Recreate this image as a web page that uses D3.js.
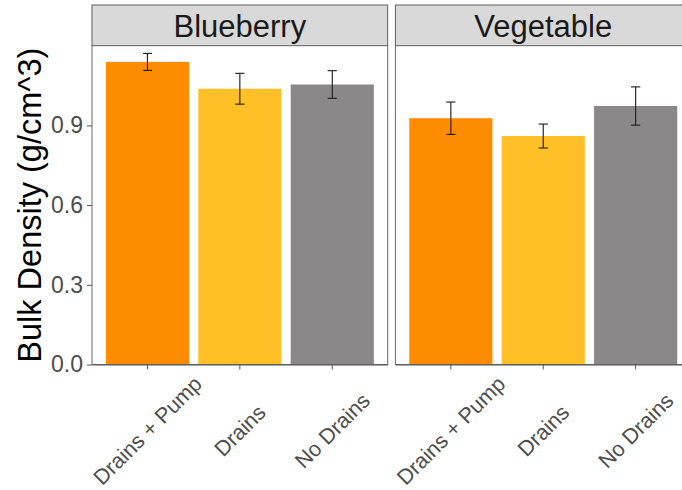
<!DOCTYPE html>
<html>
<head>
<meta charset="utf-8">
<script src="https://cdn.jsdelivr.net/npm/d3@7"></script>
<style>
  html, body { margin: 0; padding: 0; background: #fff; }
  svg { display: block; font-family: "Liberation Sans", Arial, sans-serif; }
</style>
</head>
<body>
<svg id="chart" width="682" height="490"></svg>
<script>
// Facets and treatment groups
const facets = ["Blueberry", "Vegetable"];
const treatments = ["Drains + Pump", "Drains", "No Drains"];

// Mean bulk density (g/cm^3) and standard error per treatment
const blueberryMean = [1.139, 1.038, 1.054];
const blueberrySE   = [0.032, 0.058, 0.052];
const vegetableMean = [0.927, 0.860, 0.973];
const vegetableSE   = [0.061, 0.045, 0.072];

const yTicks = [0, 0.3, 0.6, 0.9];
const treatmentColors = ["#FF8C00", "#FFBF26", "#8A8888"];

const seriesByFacet = {
  "Blueberry": { mean: blueberryMean, se: blueberrySE },
  "Vegetable": { mean: vegetableMean, se: vegetableSE }
};

const svg = d3.select("#chart");

// Layout
const stripTop = 5, stripH = 40.7;
const panelTop = stripTop + stripH, panelBottom = 364.5;
const panelLeft = 92, panelW = 295.7, panelGap = 7.7;

const y = d3.scaleLinear().domain([0, 1.2]).range([panelBottom, panelTop]);
const color = d3.scaleOrdinal().domain(treatments).range(treatmentColors);

facets.forEach((facet, i) => {
  const x0 = panelLeft + i * (panelW + panelGap);
  const x = d3.scaleBand().domain(treatments)
    .range([x0, x0 + panelW]).paddingInner(0.1).paddingOuter(0.15);
  const data = treatments.map((t, k) => ({
    t, mean: seriesByFacet[facet].mean[k], se: seriesByFacet[facet].se[k]
  }));

  const g = svg.append("g");

  // strip
  g.append("rect")
    .attr("x", x0).attr("y", stripTop).attr("width", panelW).attr("height", stripH)
    .attr("fill", "#D9D9D9").attr("stroke", "#5e5e5e").attr("stroke-width", 1);
  g.append("text")
    .attr("x", x0 + panelW / 2).attr("y", stripTop + stripH / 2)
    .attr("dy", "0.36em")
    .attr("text-anchor", "middle")
    .attr("font-size", 31).attr("fill", "#1A1A1A")
    .text(facet);

  // panel background
  g.append("rect")
    .attr("x", x0).attr("y", panelTop).attr("width", panelW).attr("height", panelBottom - panelTop)
    .attr("fill", "#fff");

  // bars
  g.selectAll("rect.bar").data(data).join("rect")
    .attr("class", "bar")
    .attr("x", d => x(d.t)).attr("width", x.bandwidth())
    .attr("y", d => y(d.mean)).attr("height", d => y(0) - y(d.mean))
    .attr("fill", d => color(d.t));

  // error bars
  const capW = x.step() * 0.1;
  const eb = g.selectAll("g.err").data(data).join("g").attr("class", "err")
    .attr("stroke", "#1a1a1a").attr("stroke-width", 1.1);
  eb.append("line")
    .attr("x1", d => x(d.t) + x.bandwidth() / 2).attr("x2", d => x(d.t) + x.bandwidth() / 2)
    .attr("y1", d => y(d.mean + d.se)).attr("y2", d => y(d.mean - d.se));
  eb.append("line")
    .attr("x1", d => x(d.t) + x.bandwidth() / 2 - capW / 2).attr("x2", d => x(d.t) + x.bandwidth() / 2 + capW / 2)
    .attr("y1", d => y(d.mean + d.se)).attr("y2", d => y(d.mean + d.se));
  eb.append("line")
    .attr("x1", d => x(d.t) + x.bandwidth() / 2 - capW / 2).attr("x2", d => x(d.t) + x.bandwidth() / 2 + capW / 2)
    .attr("y1", d => y(d.mean - d.se)).attr("y2", d => y(d.mean - d.se));

  // panel border
  g.append("rect")
    .attr("x", x0).attr("y", panelTop).attr("width", panelW).attr("height", panelBottom - panelTop)
    .attr("fill", "none").attr("stroke", "#6b6b6b").attr("stroke-width", 1);

  // x axis
  const xAxis = g.append("g")
    .attr("transform", `translate(0,${panelBottom})`)
    .call(d3.axisBottom(x).tickSize(5).tickSizeOuter(0).tickFormat(""));
  xAxis.select(".domain").attr("stroke", "#555");
  xAxis.selectAll(".tick line").attr("stroke", "#555");
  xAxis.selectAll(".tick").append("text")
    .attr("transform", "translate(0,66) rotate(-45)")
    .attr("text-anchor", "middle")
    .attr("dy", "0.35em")
    .attr("fill", "#4D4D4D")
    .attr("font-size", 21.5)
    .text(d => d);
});

// y axis on the first panel
const yAxis = svg.append("g")
  .attr("transform", `translate(${panelLeft},0)`)
  .call(d3.axisLeft(y).tickValues(yTicks).tickSize(5).tickSizeOuter(0).tickPadding(4)
    .tickFormat(d3.format(".1f")));
yAxis.select(".domain").remove();
yAxis.selectAll(".tick line").attr("stroke", "#555");
yAxis.selectAll(".tick text").attr("fill", "#4D4D4D").attr("font-size", 23)
  .attr("font-family", "'Liberation Sans', Arial, sans-serif");

// y axis title
svg.append("text")
  .attr("transform", `translate(29.5,${(panelTop + panelBottom) / 2}) rotate(-90)`)
  .attr("dy", "0.36em")
  .attr("text-anchor", "middle")
  .attr("font-size", 32.5)
  .attr("fill", "#000")
  .text("Bulk Density (g/cm^3)");
</script>
</body>
</html>
